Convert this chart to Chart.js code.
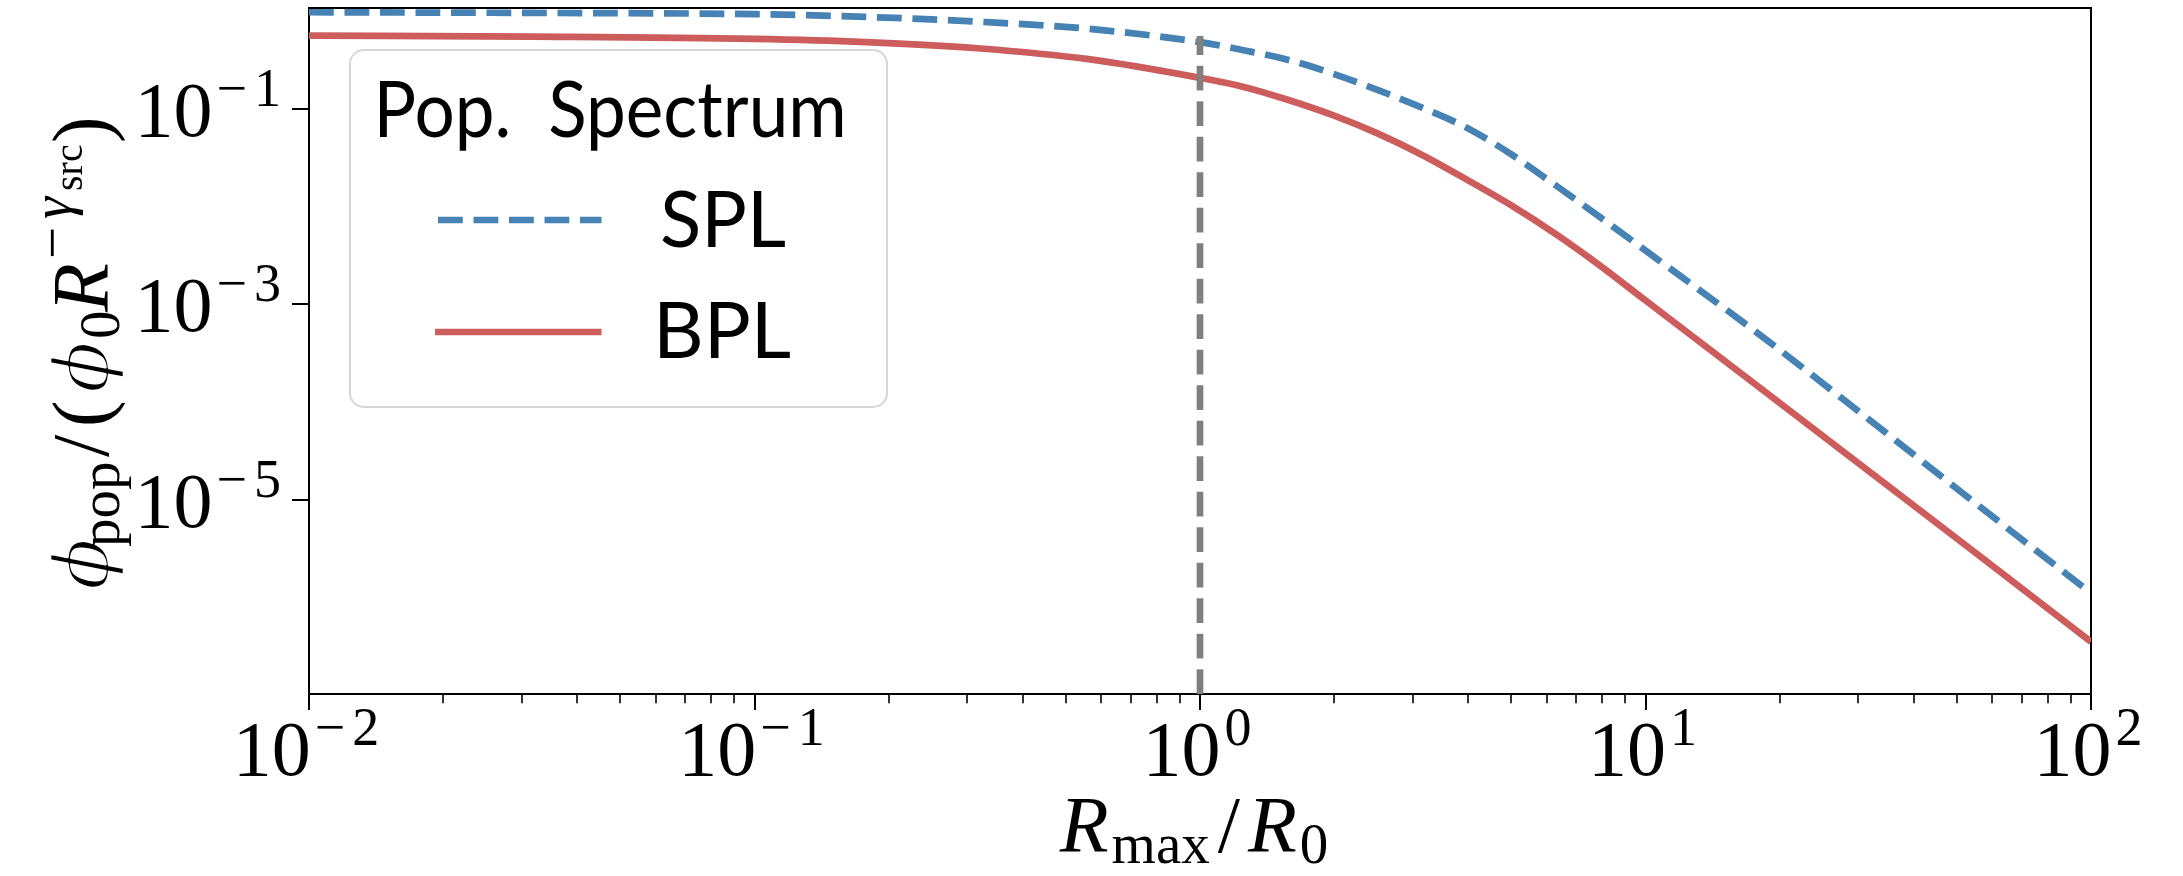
<!DOCTYPE html>
<html>
<head>
<meta charset="utf-8">
<script src="https://cdn.jsdelivr.net/npm/chart.js@4.4.1/dist/chart.umd.min.js"></script>
<style>
  html, body { margin: 0; padding: 0; background: #ffffff; overflow: hidden; }
  canvas { display: block; }
</style>
</head>
<body>
<canvas id="spectrum" width="2183" height="876"></canvas>
<script>
// Sampled population spectrum, normalised by phi_0 R^-gamma_src, versus R_max / R_0
const rMaxOverR0 = [0.01, 0.0316, 0.1, 0.178, 0.316, 0.562, 1.0, 1.26, 1.58, 2.0, 2.51, 3.16, 3.98, 5.01, 6.31, 7.94, 10, 17.8, 31.6, 56.2, 100];
const splFlux = [0.968, 0.953, 0.925, 0.867, 0.776, 0.656, 0.479, 0.394, 0.315, 0.226, 0.155, 0.102, 0.0635, 0.0339, 0.01626, 0.00767, 0.00355, 5.13e-4, 6.76e-5, 8.61e-6, 1.12e-6];
const bplFlux = [0.558, 0.546, 0.518, 0.480, 0.415, 0.321, 0.2065, 0.166, 0.1227, 0.0849, 0.0556, 0.0335, 0.01875, 0.01023, 0.00518, 0.002455, 0.001096, 1.479e-4, 2.0e-5, 2.69e-6, 3.55e-7];

// Vertical marker at R_max = R_0
const markerX = [1, 1];
const markerY = [1.04e-7, 0.555];

// Axis limits and tick exponents
const xRange = [0.01, 100];
const yRange = [1.04e-7, 1.07];
const xTickExponents = [-2, -1, 0, 1, 2];
const xMinorMultipliers = [2, 3, 4, 5, 6, 7, 8, 9];
const yTickExponents = [-1, -3, -5];

const legendTitle = 'Pop. Spectrum';
const legendOrder = ['SPL', 'BPL'];

const SERIF = '"Liberation Serif", "DejaVu Serif", serif';
const GREEK = '"DejaVu Serif", "Liberation Serif", serif';
const SANS = 'Lato, "DejaVu Sans", sans-serif';
const DASH = [24.8, 10.7];

const xTickValues = [];
xTickExponents.forEach((e, i) => {
  xTickValues.push(Math.pow(10, e));
  if (i < xTickExponents.length - 1) xMinorMultipliers.forEach(m => xTickValues.push(m * Math.pow(10, e)));
});
xTickValues.sort((a, b) => a - b);
const yTickValues = yTickExponents.map(e => Math.pow(10, e));

function isDecade(v) {
  const l = Math.log10(v);
  return Math.abs(l - Math.round(l)) < 1e-9;
}

function pairs(xs, ys) { return xs.map((x, i) => ({ x: x, y: ys[i] })); }

// Draw a sequence of text runs (mixed fonts / offsets) one after another
function drawRuns(ctx, runs, cx, baseline, align) {
  let total = 0;
  const widths = runs.map(r => {
    ctx.font = r.font;
    const w = ctx.measureText(r.t).width;
    total += w + (r.gap || 0);
    return w;
  });
  let x = cx + (align === 'right' ? -total : (align === 'left' ? 0 : -total / 2));
  ctx.textAlign = 'left';
  ctx.textBaseline = 'alphabetic';
  runs.forEach((r, i) => {
    ctx.font = r.font;
    ctx.fillText(r.t, x, baseline + (r.dy || 0));
    x += widths[i] + (r.gap || 0);
  });
}

// Draw text runs, each with its ink starting at a given offset along the line;
// `thin` runs get a white outline to lighten a heavy fallback glyph
function drawPlaced(ctx, runs, baseline) {
  ctx.textAlign = 'left';
  ctx.textBaseline = 'alphabetic';
  runs.forEach(r => {
    ctx.font = r.font;
    const m = ctx.measureText(r.t);
    const x = r.at + m.actualBoundingBoxLeft;
    const y = baseline + (r.dy || 0);
    ctx.fillText(r.t, x, y);
    if (r.thin) {
      ctx.save();
      ctx.strokeStyle = '#ffffff';
      ctx.lineWidth = r.thin;
      ctx.lineJoin = 'round';
      ctx.strokeText(r.t, x, y);
      ctx.restore();
    }
  });
}

function powerRuns(exp) {
  const big = '78px ' + SERIF;
  const small = '54px ' + SERIF;
  const runs = [{ t: '10', font: big, gap: 4 }];
  if (exp < 0) {
    runs.push({ t: '\u2212', font: small, dy: -30, gap: 7 });
    runs.push({ t: String(-exp), font: small, dy: -30 });
  } else {
    runs.push({ t: String(exp), font: small, dy: -30 });
  }
  return runs;
}

// Text whose ink box starts at `left` and spans `inkWidth`
function drawFitted(ctx, text, font, left, baseline, inkWidth, wordGap) {
  ctx.font = font;
  ctx.textAlign = 'left';
  ctx.textBaseline = 'alphabetic';
  let m = ctx.measureText(text);
  let sx = inkWidth / (m.actualBoundingBoxLeft + m.actualBoundingBoxRight);
  if (wordGap) {
    const words = text.split(' ');
    const m1 = ctx.measureText(words[0]);
    const m2 = ctx.measureText(words[1]);
    const w1 = m1.actualBoundingBoxLeft + m1.actualBoundingBoxRight;
    const w2 = m2.actualBoundingBoxLeft + m2.actualBoundingBoxRight;
    const natural = (m.actualBoundingBoxLeft + m.actualBoundingBoxRight) - w1 - w2;
    sx = (inkWidth - wordGap) / (w1 + w2);
    if ('wordSpacing' in ctx) {
      ctx.wordSpacing = (wordGap / sx - natural) + 'px';
      m = ctx.measureText(text);
    }
  }
  ctx.save();
  ctx.translate(left, baseline);
  ctx.scale(sx, 1);
  ctx.fillText(text, m.actualBoundingBoxLeft, 0);
  ctx.restore();
  if ('wordSpacing' in ctx) ctx.wordSpacing = '0px';
}

function roundedRect(ctx, x, y, w, h, r) {
  ctx.beginPath();
  ctx.moveTo(x + r, y);
  ctx.lineTo(x + w - r, y);
  ctx.arcTo(x + w, y, x + w, y + r, r);
  ctx.lineTo(x + w, y + h - r);
  ctx.arcTo(x + w, y + h, x + w - r, y + h, r);
  ctx.lineTo(x + r, y + h);
  ctx.arcTo(x, y + h, x, y + h - r, r);
  ctx.lineTo(x, y + r);
  ctx.arcTo(x, y, x + r, y, r);
  ctx.closePath();
}

// Tick labels with powers of ten, the two axis titles and the legend
const labelPlugin = {
  id: 'mathLabels',
  afterDraw(chart) {
    const ctx = chart.ctx;
    const xs = chart.scales.x;
    const ys = chart.scales.y;
    ctx.save();
    ctx.fillStyle = '#000000';

    xTickExponents.forEach(e => {
      const px = xs.getPixelForValue(Math.pow(10, e));
      drawRuns(ctx, powerRuns(e), px - 3, 775, 'center');
    });
    yTickExponents.forEach(e => {
      const py = ys.getPixelForValue(Math.pow(10, e));
      drawRuns(ctx, powerRuns(e), 281, py + 27, 'right');
    });

    const it = 'italic 80px ' + SERIF;
    const greek = 'italic 76px ' + GREEK;
    const rm = '80px ' + SERIF;
    const sub = '57px ' + SERIF;
    const subIt = 'italic 56px ' + SERIF;
    const subsub = '40px ' + SERIF;

    // x title: R_max / R_0, centred under the plot area
    const cx = (chart.chartArea.left + chart.chartArea.right) / 2 - 6;
    drawRuns(ctx, [
      { t: 'R', font: it, gap: 3 },
      { t: 'max', font: sub, dy: 11, gap: 8 },
      { t: '/', font: rm, gap: 8 },
      { t: 'R', font: it, gap: 3 },
      { t: '0', font: sub, dy: 11 }
    ], cx, 852, 'center');

    // y title: phi_pop / (phi_0 R^{-gamma_src}), read upwards from y = 590
    ctx.save();
    ctx.translate(108, 590);
    ctx.rotate(-Math.PI / 2);
    drawPlaced(ctx, [
      { t: '\u03D5', font: greek, at: 0, thin: 2.5 },
      { t: 'pop', font: sub, dy: 11, at: 43 },
      { t: '/', font: rm, at: 133 },
      { t: '(', font: rm, at: 166 },
      { t: '\u03D5', font: greek, at: 197, thin: 2.5 },
      { t: '0', font: sub, dy: 11, at: 253 },
      { t: 'R', font: it, at: 277 },
      { t: '\u2212', font: sub, dy: -37, at: 333 },
      { t: '\u03B3', font: subIt, dy: -37, at: 372 },
      { t: 'src', font: subsub, dy: -26, at: 400 },
      { t: ')', font: rm, at: 449 }
    ], 0);
    ctx.restore();

    // legend
    const left = 350, top = 50, w = 537, h = 357;
    roundedRect(ctx, left, top, w, h, 14);
    ctx.fillStyle = 'rgba(255,255,255,0.8)';
    ctx.fill();
    ctx.lineWidth = 2;
    ctx.strokeStyle = '#d6d6d6';
    ctx.stroke();

    ctx.fillStyle = '#000000';
    const lf = '78px ' + SANS;
    drawFitted(ctx, legendTitle, lf, 380, 137, 463, 41.7);

    const rows = [
      { y: 220, baseline: 247, textLeft: 662, textWidth: 123, x0: 438 },
      { y: 332, baseline: 358, textLeft: 660, textWidth: 130, x0: 435 }
    ];
    legendOrder.forEach((name, i) => {
      const ds = chart.data.datasets.find(d => d.label === name);
      const row = rows[i];
      ctx.save();
      ctx.strokeStyle = ds.borderColor;
      ctx.lineWidth = ds.borderWidth;
      ctx.lineCap = 'butt';
      ctx.setLineDash(ds.borderDash || []);
      ctx.beginPath();
      ctx.moveTo(row.x0, row.y);
      ctx.lineTo(601.5, row.y);
      ctx.stroke();
      ctx.restore();
      ctx.fillStyle = '#000000';
      drawFitted(ctx, name, lf, row.textLeft, row.baseline, row.textWidth);
    });
    ctx.restore();
  }
};

const frameAxis = (pos, size) => ({
  type: 'linear',
  position: pos,
  z: 1,
  ticks: { display: false },
  grid: { drawOnChartArea: false, drawTicks: false, lineWidth: 2, color: '#000000' },
  border: { display: true, color: '#000000', width: 2 },
  afterFit: s => { if (pos === 'top' || pos === 'bottom') s.height = size; else s.width = size; }
});

new Chart(document.getElementById('spectrum'), {
  type: 'line',
  data: {
    datasets: [
      {
        label: 'R_max = R_0',
        data: pairs(markerX, markerY),
        xAxisID: 'x', yAxisID: 'y',
        borderColor: '#808080',
        borderWidth: 6.7,
        borderDash: DASH,
        borderCapStyle: 'butt',
        pointRadius: 0,
        order: 0,
        clip: 0
      },
      {
        label: 'BPL',
        data: pairs(rMaxOverR0, bplFlux),
        xAxisID: 'x', yAxisID: 'y',
        borderColor: '#cd5c5c',
        borderWidth: 6.7,
        borderJoinStyle: 'round',
        cubicInterpolationMode: 'monotone',
        pointRadius: 0,
        order: 1,
        clip: 0
      },
      {
        label: 'SPL',
        data: pairs(rMaxOverR0, splFlux),
        xAxisID: 'x', yAxisID: 'y',
        borderColor: '#4682b4',
        borderWidth: 6.7,
        borderDash: DASH,
        borderCapStyle: 'butt',
        borderJoinStyle: 'round',
        cubicInterpolationMode: 'monotone',
        pointRadius: 0,
        order: 2,
        clip: 0
      }
    ]
  },
  options: {
    responsive: false,
    animation: false,
    devicePixelRatio: 1,
    events: [],
    layout: { padding: 0 },
    plugins: {
      legend: { display: false },
      tooltip: { enabled: false },
      title: { display: false }
    },
    scales: {
      x: {
        type: 'logarithmic',
        position: 'bottom',
        min: xRange[0],
        max: xRange[1],
        bounds: 'data',
        z: 1,
        afterBuildTicks: s => { s.ticks = xTickValues.map(v => ({ value: v, major: isDecade(v) })); },
        afterFit: s => { s.height = 182; },
        ticks: { display: false, autoSkip: false },
        grid: {
          drawOnChartArea: false,
          drawTicks: true,
          tickLength: 16,
          lineWidth: 2,
          color: '#000000',
          tickColor: '#000000',
          tickWidth: c => (c.tick && isDecade(c.tick.value)) ? 2 : 1.6,
          tickBorderDash: c => (c.tick && isDecade(c.tick.value)) ? [] : [8.3, 60]
        },
        border: { display: true, color: '#000000', width: 2 }
      },
      y: {
        type: 'logarithmic',
        position: 'left',
        min: yRange[0],
        max: yRange[1],
        bounds: 'data',
        z: 1,
        afterBuildTicks: s => { s.ticks = yTickValues.map(v => ({ value: v, major: true })); },
        afterFit: s => { s.width = 309; },
        ticks: { display: false, autoSkip: false },
        grid: {
          drawOnChartArea: false,
          drawTicks: true,
          tickLength: 17,
          lineWidth: 2,
          color: '#000000',
          tickColor: '#000000',
          tickWidth: 2
        },
        border: { display: true, color: '#000000', width: 2 }
      },
      xTop: frameAxis('top', 8),
      yRight: frameAxis('right', 92)
    }
  },
  plugins: [labelPlugin]
});
</script>
</body>
</html>
